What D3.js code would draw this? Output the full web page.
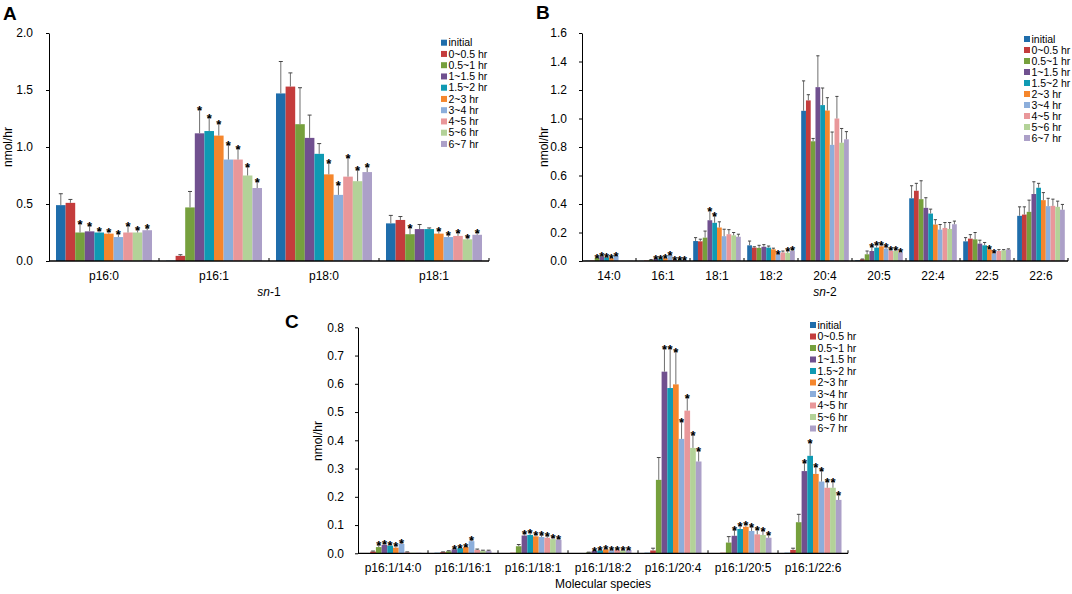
<!DOCTYPE html>
<html>
<head>
<meta charset="utf-8">
<script src="https://cdnjs.cloudflare.com/ajax/libs/d3/7.8.5/d3.min.js"></script>
<style>
  body { margin: 0; background: #fff; }
  text { font-family: "Liberation Sans", Arial, sans-serif; fill: #000; }
</style>
</head>
<body>
<div id="chart"></div>
<script>
// series (time windows) shared by the three panels
var seriesNames = ["initial", "0~0.5 hr", "0.5~1 hr", "1~1.5 hr", "1.5~2 hr",
  "2~3 hr", "3~4 hr", "4~5 hr", "5~6 hr", "6~7 hr"];
var seriesColors = ["#1F6DAB", "#C43C3C", "#76A03D", "#70508F", "#0F9AB3",
  "#F5862C", "#8CAEDB", "#E9979A", "#B3D298", "#ACA0C8"];

// panel A: sn-1
var catsA = ["p16:0", "p16:1", "p18:0", "p18:1"];
var meanA = [
  [0.49, 0.51, 0.25, 0.26, 0.25, 0.24, 0.21, 0.25, 0.25, 0.27],
  [0.003, 0.045, 0.47, 1.12, 1.14, 1.10, 0.89, 0.89, 0.75, 0.64],
  [1.47, 1.53, 1.20, 1.08, 0.94, 0.76, 0.58, 0.74, 0.70, 0.78],
  [0.33, 0.36, 0.235, 0.28, 0.28, 0.24, 0.21, 0.22, 0.19, 0.23]
];
var errA = [
  [0.10, 0.03, 0.08, 0.05, 0.02, 0.02, 0.03, 0.06, 0.03, 0.02],
  [0, 0.01, 0.14, 0.21, 0.12, 0.11, 0.13, 0.10, 0.08, 0.06],
  [0.28, 0.12, 0.32, 0.20, 0.09, 0.10, 0.09, 0.17, 0.10, 0.05],
  [0.07, 0.03, 0.06, 0.04, 0.01, 0.03, 0.02, 0.03, 0.02, 0.02]
];
var starA = [
  [0, 0, 1, 1, 1, 1, 1, 1, 1, 1],
  [0, 0, 0, 1, 1, 1, 1, 1, 1, 1],
  [0, 0, 0, 0, 0, 1, 1, 1, 1, 1],
  [0, 0, 1, 0, 0, 1, 1, 1, 1, 1]
];
var ticksA = [0, 0.5, 1.0, 1.5, 2.0];

// panel B: sn-2
var catsB = ["14:0", "16:1", "18:1", "18:2", "20:4", "20:5", "22:4", "22:5", "22:6"];
var meanB = [
  [0.002, 0.003, 0.022, 0.032, 0.026, 0.02, 0.034, 0.002, 0.002, 0.002],
  [0.001, 0.003, 0.008, 0.015, 0.018, 0.02, 0.04, 0.008, 0.008, 0.008],
  [0.14, 0.138, 0.164, 0.286, 0.268, 0.235, 0.174, 0.188, 0.18, 0.17],
  [0.11, 0.094, 0.092, 0.1, 0.094, 0.082, 0.045, 0.06, 0.058, 0.07],
  [1.054, 1.127, 0.84, 1.22, 1.094, 1.056, 0.815, 1.0, 0.83, 0.854],
  [0.005, 0.012, 0.047, 0.07, 0.094, 0.103, 0.087, 0.07, 0.07, 0.06],
  [0.44, 0.493, 0.434, 0.373, 0.333, 0.256, 0.22, 0.232, 0.225, 0.258],
  [0.138, 0.157, 0.152, 0.122, 0.11, 0.08, 0.052, 0.07, 0.075, 0.08],
  [0.317, 0.326, 0.345, 0.47, 0.514, 0.427, 0.385, 0.387, 0.38, 0.36]
];
var errB = [
  [0, 0, 0.005, 0.004, 0.003, 0.003, 0.005, 0, 0, 0],
  [0, 0, 0.002, 0.003, 0.003, 0.003, 0.004, 0.002, 0.002, 0.002],
  [0.024, 0.015, 0.046, 0.07, 0.05, 0.04, 0.049, 0.032, 0.02, 0.018],
  [0.03, 0.006, 0.018, 0.015, 0.011, 0.008, 0.005, 0.01, 0.017, 0.01],
  [0.21, 0.04, 0.02, 0.22, 0.12, 0.09, 0.09, 0.155, 0.10, 0.054],
  [0, 0.002, 0.023, 0.03, 0.021, 0.012, 0.013, 0.012, 0.01, 0.008],
  [0.088, 0.052, 0.129, 0.071, 0.031, 0.034, 0.036, 0.038, 0.045, 0.022],
  [0.026, 0.028, 0.048, 0.024, 0.02, 0.01, 0.01, 0.01, 0.005, 0.005],
  [0.063, 0.054, 0.082, 0.086, 0.031, 0.053, 0.055, 0.047, 0.04, 0.037]
];
var starB = [
  [0, 0, 1, 1, 1, 1, 1, 0, 0, 0],
  [0, 0, 0, 1, 1, 1, 1, 1, 1, 1],
  [0, 0, 0, 1, 1, 0, 0, 0, 0, 0],
  [0, 0, 0, 0, 0, 0, 1, 0, 1, 1],
  [0, 0, 0, 0, 0, 0, 0, 0, 0, 0],
  [0, 0, 0, 1, 1, 1, 1, 1, 1, 1],
  [0, 0, 0, 0, 0, 0, 0, 0, 0, 0],
  [0, 0, 0, 0, 0, 1, 1, 0, 0, 0],
  [0, 0, 0, 0, 0, 0, 0, 0, 0, 0]
];
var ticksB = [0, 0.2, 0.4, 0.6, 0.8, 1.0, 1.2, 1.4, 1.6];

// panel C: molecular species
var catsC = ["p16:1/14:0", "p16:1/16:1", "p16:1/18:1", "p16:1/18:2",
  "p16:1/20:4", "p16:1/20:5", "p16:1/22:6"];
var meanC = [
  [0.001, 0.006, 0.022, 0.03, 0.027, 0.02, 0.033, 0.004, 0.002, 0.002],
  [0.002, 0.004, 0.007, 0.014, 0.018, 0.022, 0.043, 0.012, 0.009, 0.009],
  [0.001, 0.002, 0.025, 0.063, 0.065, 0.06, 0.058, 0.055, 0.05, 0.048],
  [0.001, 0.001, 0.003, 0.008, 0.01, 0.014, 0.01, 0.013, 0.01, 0.012],
  [0.002, 0.01, 0.26, 0.643, 0.585, 0.598, 0.405, 0.505, 0.373, 0.325],
  [0.001, 0.002, 0.038, 0.062, 0.086, 0.094, 0.079, 0.067, 0.065, 0.055],
  [0.002, 0.012, 0.11, 0.291, 0.345, 0.281, 0.254, 0.232, 0.232, 0.189]
];
var errC = [
  [0, 0.002, 0.008, 0.005, 0.005, 0.007, 0.005, 0.001, 0, 0],
  [0, 0.001, 0.002, 0.003, 0.003, 0.003, 0.005, 0.003, 0.002, 0.002],
  [0, 0, 0.006, 0.008, 0.01, 0.006, 0.007, 0.007, 0.007, 0.004],
  [0, 0, 0.001, 0.002, 0.002, 0.002, 0.002, 0.002, 0.002, 0.002],
  [0, 0.008, 0.079, 0.083, 0.141, 0.118, 0.063, 0.047, 0.046, 0.038],
  [0, 0, 0.021, 0.021, 0.012, 0.009, 0.015, 0.018, 0.015, 0.012],
  [0, 0.006, 0.028, 0.03, 0.048, 0.026, 0.039, 0.022, 0.022, 0.02]
];
var starC = [
  [0, 0, 1, 1, 1, 1, 1, 0, 0, 0],
  [0, 0, 0, 1, 1, 1, 1, 0, 0, 0],
  [0, 0, 0, 1, 1, 1, 1, 1, 1, 1],
  [0, 0, 0, 1, 1, 1, 1, 1, 1, 1],
  [0, 0, 0, 1, 1, 1, 1, 1, 1, 1],
  [0, 0, 0, 1, 1, 1, 1, 1, 1, 1],
  [0, 0, 0, 1, 1, 1, 1, 1, 1, 1]
];
var ticksC = [0, 0.1, 0.2, 0.3, 0.4, 0.5, 0.6, 0.7, 0.8];

var svg = d3.select("#chart")
  .append("svg")
  .attr("width", 1072)
  .attr("height", 594);

function drawPanel(p) {
  var x = d3.scaleBand().domain(p.cats).range([p.left, p.right]);
  var xs = d3.scaleBand().domain(d3.range(seriesNames.length))
    .range([p.pad, x.bandwidth() - p.pad]);
  var y = d3.scaleLinear().domain([0, p.ticks[p.ticks.length - 1]]).range([p.bottom, p.top]);
  var g = svg.append("g");
  var capW = Math.min(2, xs.bandwidth() / 3);

  // y axis
  g.append("g")
    .attr("transform", `translate(${p.left},0)`)
    .call(d3.axisLeft(y).tickValues(p.ticks).tickFormat(d3.format(".1f"))
      .tickSize(3).tickSizeOuter(0).tickPadding(p.tickPad))
    .call(a => a.selectAll("text").attr("font-size", 12).attr("font-family", null))
    .call(a => a.selectAll("line,path").attr("stroke", "#000"));

  // bars, error bars, significance stars
  p.cats.forEach(function (c, ci) {
    var grp = g.append("g").attr("transform", `translate(${x(c)},0)`);
    p.mean[ci].forEach(function (v, si) {
      var bx = xs(si), bw = xs.bandwidth(), cx = bx + bw / 2;
      grp.append("rect")
        .attr("x", bx).attr("y", y(v))
        .attr("width", bw).attr("height", y(0) - y(v))
        .attr("fill", seriesColors[si]);
      var top = y(v + p.err[ci][si]);
      if (p.err[ci][si] > 0) {
        grp.append("line").attr("x1", cx).attr("x2", cx)
          .attr("y1", y(v)).attr("y2", top)
          .attr("stroke", "#6f6f6f").attr("stroke-width", 1);
        grp.append("line").attr("x1", cx - capW).attr("x2", cx + capW)
          .attr("y1", top).attr("y2", top)
          .attr("stroke", "#444").attr("stroke-width", 1);
      }
      if (p.star[ci][si]) {
        grp.append("text")
          .attr("x", cx).attr("y", top + 5.5)
          .attr("text-anchor", "middle")
          .attr("font-size", 13).attr("font-weight", "bold")
          .text("*");
      }
    });
  });

  // x axis line with category boundary ticks
  g.append("line")
    .attr("x1", p.left).attr("x2", p.right)
    .attr("y1", y(0)).attr("y2", y(0))
    .attr("stroke", "#000").attr("stroke-width", 1.3);
  g.selectAll(".bt")
    .data(p.cats)
    .enter().append("line")
    .attr("x1", d => x(d) + x.bandwidth()).attr("x2", d => x(d) + x.bandwidth())
    .attr("y1", y(0)).attr("y2", y(0) - 3)
    .attr("stroke", "#000");
  g.append("g")
    .attr("transform", `translate(0,${y(0)})`)
    .call(d3.axisBottom(x).tickSize(0).tickPadding(10))
    .call(a => a.select(".domain").remove())
    .call(a => a.selectAll("text").attr("font-size", 12).attr("font-family", null));

  // y axis title
  g.append("text")
    .attr("transform", `translate(${p.ylabX},${p.ylabY}) rotate(-90)`)
    .attr("text-anchor", "middle")
    .attr("font-size", 12)
    .text("nmol/hr");

  // panel letter
  g.append("text")
    .attr("x", p.letterX).attr("y", p.letterY)
    .attr("font-size", 19).attr("font-weight", "bold")
    .text(p.letter);

  // legend
  var leg = g.selectAll(".leg")
    .data(seriesNames)
    .enter().append("g")
    .attr("transform", (d, i) => `translate(${p.legX},${p.legY + i * p.legStep})`);
  leg.append("rect")
    .attr("x", 0).attr("y", -3).attr("width", 6).attr("height", 6)
    .attr("fill", (d, i) => seriesColors[i]);
  leg.append("text")
    .attr("x", 7.5).attr("dy", "0.35em")
    .attr("font-size", 10.5)
    .text(d => d);

  return g;
}

drawPanel({
  cats: catsA, mean: meanA, err: errA, star: starA, ticks: ticksA,
  left: 49, right: 489, top: 33, bottom: 261, pad: 7, tickPad: 13,
  ylabX: 12, ylabY: 147, letter: "A", letterX: 3, letterY: 20,
  legX: 441, legY: 42.7, legStep: 11.25
});
drawPanel({
  cats: catsB, mean: meanB, err: errB, star: starB, ticks: ticksB,
  left: 582, right: 1068, top: 33, bottom: 261, pad: 3.2, tickPad: 12,
  ylabX: 548, ylabY: 147, letter: "B", letterX: 536, letterY: 19,
  legX: 1024, legY: 39, legStep: 11
});
drawPanel({
  cats: catsC, mean: meanC, err: errC, star: starC, ticks: ticksC,
  left: 358, right: 848, top: 327.3, bottom: 553.3, pad: 6.5, tickPad: 11,
  ylabX: 322, ylabY: 441, letter: "C", letterX: 285, letterY: 328,
  legX: 810, legY: 325, legStep: 11.5
});

// axis titles
var t1 = svg.append("text").attr("x", 269).attr("y", 296)
  .attr("text-anchor", "middle").attr("font-size", 12);
t1.append("tspan").attr("font-style", "italic").text("sn");
t1.append("tspan").text("-1");
var t2 = svg.append("text").attr("x", 825).attr("y", 296)
  .attr("text-anchor", "middle").attr("font-size", 12);
t2.append("tspan").attr("font-style", "italic").text("sn");
t2.append("tspan").text("-2");
svg.append("text").attr("x", 603).attr("y", 588)
  .attr("text-anchor", "middle").attr("font-size", 12)
  .text("Molecular species");
</script>
</body>
</html>
